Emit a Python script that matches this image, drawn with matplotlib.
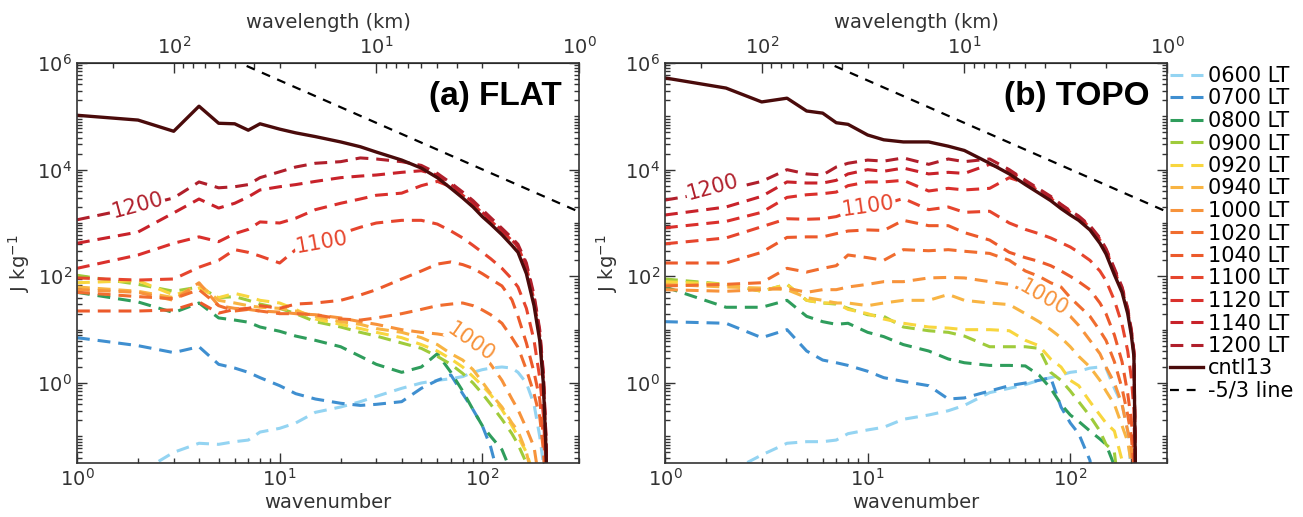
import numpy as np
import matplotlib.pyplot as plt
from matplotlib.ticker import LogLocator, NullFormatter, LogFormatterMathtext, FixedLocator

# wavenumber grid shared by every spectrum
wavenumber = [1, 2, 3, 4, 5, 6, 7, 8, 10, 12, 15, 20, 25, 30, 40, 50, 60, 70, 80,
              90, 100, 110, 125, 140, 150, 165, 180, 192, 200, 206, 212]

times = ['0600', '0700', '0800', '0900', '0920', '0940', '1000',
         '1020', '1040', '1100', '1120', '1140', '1200']

# log10 of kinetic energy spectra (J kg-1), FLAT run
flat_0600 = [-3.0, -1.7, -1.3, -1.13, -1.15, -1.1, -1.07, -0.92, -0.85, -0.75, -0.55, -0.45, -0.35, -0.25, -0.1, 0.0,
             0.05, 0.08, 0.12, 0.2, 0.25, 0.28, 0.3, 0.28, 0.2, 0.0, -0.4, -1.0, -1.5, -2.0, -3.0]
flat_0700 = [0.85, 0.7, 0.57, 0.68, 0.35, 0.28, 0.2, 0.1, -0.05, -0.2, -0.3, -0.38, -0.42, -0.4, -0.35, -0.1,
             0.05, 0.15, -0.2, -0.5, -0.8, -1.2, -2.0, -3.0, -3.0, -3.0, -3.0, -3.0, -3.0, -3.0, -3.0]
flat_0800 = [1.7, 1.52, 1.32, 1.5, 1.22, 1.18, 1.14, 1.05, 0.97, 0.88, 0.8, 0.68, 0.5, 0.35, 0.2, 0.3,
             0.55, 0.2, -0.15, -0.5, -0.8, -1.0, -1.25, -1.7, -3.0, -3.0, -3.0, -3.0, -3.0, -3.0, -3.0]
flat_0900 = [2.02, 1.85, 1.72, 1.8, 1.6, 1.62, 1.55, 1.48, 1.4, 1.3, 1.15, 1.05, 0.95, 0.88, 0.75, 0.65,
             0.5, 0.35, 0.18, 0.0, -0.2, -0.4, -0.68, -0.95, -1.15, -1.5, -3.0, -3.0, -3.0, -3.0, -3.0]
flat_0920 = [1.88, 1.92, 1.65, 1.78, 1.6, 1.68, 1.62, 1.55, 1.5, 1.38, 1.2, 1.1, 1.02, 0.95, 0.85, 0.72,
             0.6, 0.45, 0.3, 0.12, -0.05, -0.22, -0.5, -0.8, -1.0, -1.3, -1.75, -3.0, -3.0, -3.0, -3.0]
flat_0940 = [1.8, 1.72, 1.6, 1.85, 1.55, 1.5, 1.45, 1.42, 1.4, 1.35, 1.25, 1.15, 1.1, 1.02, 0.95, 0.85,
             0.72, 0.55, 0.43, 0.25, 0.02, -0.2, -0.45, -0.75, -0.9, -1.3, -1.9, -3.0, -3.0, -3.0, -3.0]
flat_1000 = [1.75, 1.7, 1.55, 1.88, 1.45, 1.4, 1.38, 1.35, 1.33, 1.3, 1.28, 1.22, 1.15, 1.1, 1.0, 0.95,
             0.92, 0.88, 0.82, 0.72, 0.55, 0.35, 0.05, -0.3, -0.5, -0.85, -1.2, -1.9, -3.0, -3.0, -3.0]
flat_1020 = [1.7, 1.62, 1.58, 1.75, 1.45, 1.35, 1.38, 1.35, 1.3, 1.3, 1.28, 1.2, 1.18, 1.22, 1.3, 1.38,
             1.45, 1.48, 1.5, 1.45, 1.37, 1.28, 1.12, 0.85, 0.67, 0.25, -0.2, -0.63, -1.25, -2.0, -3.0]
flat_1040 = [1.35, 1.35, 1.37, 1.52, 1.31, 1.38, 1.4, 1.45, 1.4, 1.48, 1.5, 1.55, 1.65, 1.75, 1.95, 2.1,
             2.23, 2.27, 2.22, 2.15, 2.05, 1.95, 1.82, 1.56, 1.25, 0.75, 0.2, -0.3, -1.0, -1.6, -3.0]
flat_1100 = [1.97, 1.93, 1.95, 2.17, 2.3, 2.5, 2.45, 2.38, 2.25, 2.5, 2.62, 2.8, 2.92, 3.0, 3.05, 3.05,
             2.98, 2.85, 2.72, 2.58, 2.45, 2.33, 2.15, 1.95, 1.8, 1.4, 0.8, 0.1, -0.6, -1.5, -3.0]
flat_1120 = [2.15, 2.4, 2.62, 2.74, 2.65, 2.8, 2.88, 3.02, 3.0, 3.09, 3.25, 3.37, 3.45, 3.52, 3.56, 3.7,
             3.78, 3.68, 3.52, 3.36, 3.18, 3.04, 2.85, 2.67, 2.55, 2.18, 1.55, 0.9, 0.1, -1.1, -3.0]
flat_1140 = [2.62, 2.83, 3.19, 3.45, 3.28, 3.37, 3.49, 3.62, 3.68, 3.72, 3.78, 3.85, 3.88, 3.9, 3.95, 3.98,
             3.9, 3.72, 3.55, 3.38, 3.2, 3.06, 2.86, 2.68, 2.56, 2.2, 1.6, 0.95, 0.15, -1.0, -3.0]
flat_1200 = [3.06, 3.3, 3.47, 3.77, 3.66, 3.68, 3.72, 3.85, 3.96, 4.05, 4.12, 4.15, 4.22, 4.2, 4.15, 4.08,
             3.93, 3.75, 3.58, 3.42, 3.25, 3.1, 2.9, 2.72, 2.6, 2.25, 1.65, 1.0, 0.2, -1.0, -3.0]
flat_cntl13 = [5.02, 4.93, 4.72, 5.19, 4.87, 4.86, 4.74, 4.86, 4.76, 4.69, 4.62, 4.52, 4.43, 4.33, 4.18, 4.03,
               3.85, 3.65, 3.47, 3.3, 3.12, 2.98, 2.78, 2.58, 2.45, 2.05, 1.45, 0.8, 0.0, -1.2, -3.0]

# log10 of kinetic energy spectra (J kg-1), TOPO run
topo_0600 = [-3.0, -1.7, -1.35, -1.13, -1.1, -1.1, -1.07, -0.95, -0.88, -0.83, -0.68, -0.6, -0.52, -0.42, -0.18, -0.1,
             -0.03, 0.05, 0.1, 0.15, 0.2, 0.22, 0.28, 0.3, 0.28, -0.1, -0.4, -0.9, -1.7, -2.5, -3.0]
topo_0700 = [1.15, 1.12, 0.85, 1.0, 0.6, 0.43, 0.38, 0.33, 0.22, 0.1, 0.03, -0.05, -0.3, -0.28, -0.15, -0.05,
             0.0, 0.05, 0.1, -0.45, -0.75, -0.95, -1.45, -3.0, -3.0, -3.0, -3.0, -3.0, -3.0, -3.0, -3.0]
topo_0800 = [1.8, 1.42, 1.42, 1.55, 1.25, 1.15, 1.1, 1.12, 0.95, 0.87, 0.72, 0.6, 0.45, 0.38, 0.33, 0.33,
             0.32, 0.15, -0.1, -0.4, -0.6, -0.72, -0.9, -1.05, -1.15, -1.55, -3.0, -3.0, -3.0, -3.0, -3.0]
topo_0900 = [1.95, 1.85, 1.72, 1.85, 1.55, 1.5, 1.48, 1.4, 1.28, 1.25, 1.05, 0.98, 0.95, 0.88, 0.68, 0.68,
             0.68, 0.65, 0.2, 0.05, -0.15, -0.35, -0.62, -0.9, -1.15, -1.3, -2.5, -3.0, -3.0, -3.0, -3.0]
topo_0920 = [1.9, 1.85, 1.72, 1.85, 1.55, 1.5, 1.5, 1.38, 1.3, 1.2, 1.12, 1.05, 1.03, 1.0, 1.0, 0.98,
             0.8, 0.7, 0.45, 0.3, 0.05, -0.05, -0.35, -0.6, -0.75, -0.9, -1.45, -3.0, -3.0, -3.0, -3.0]
topo_0940 = [1.85, 1.8, 1.78, 1.75, 1.6, 1.55, 1.5, 1.5, 1.45, 1.5, 1.55, 1.55, 1.66, 1.55, 1.5, 1.47,
             1.3, 1.15, 1.0, 0.85, 0.68, 0.5, 0.3, 0.05, -0.15, -0.4, -0.8, -1.1, -1.5, -3.0, -3.0]
topo_1000 = [1.75, 1.72, 1.75, 1.78, 1.7, 1.75, 1.75, 1.8, 1.85, 1.9, 1.9, 1.97, 1.98, 1.97, 1.9, 1.85,
             1.72, 1.55, 1.45, 1.35, 1.25, 1.08, 0.8, 0.55, 0.3, 0.0, -0.4, -0.9, -1.2, -2.0, -3.0]
topo_1020 = [1.82, 1.85, 1.88, 2.15, 2.08, 2.15, 2.2, 2.4, 2.35, 2.3, 2.5, 2.48, 2.5, 2.47, 2.43, 2.3,
             2.1, 2.0, 1.88, 1.8, 1.6, 1.45, 1.25, 0.98, 0.8, 0.4, -0.1, -0.6, -1.0, -1.6, -3.0]
topo_1040 = [2.25, 2.25, 2.45, 2.73, 2.74, 2.74, 2.8, 2.85, 2.87, 2.86, 3.05, 2.95, 2.95, 2.82, 2.68, 2.45,
             2.35, 2.28, 2.2, 2.1, 2.0, 1.9, 1.75, 1.5, 1.3, 0.9, 0.4, -0.2, -0.7, -1.3, -3.0]
topo_1100 = [2.61, 2.72, 2.93, 3.08, 3.07, 3.08, 3.12, 3.2, 3.3, 3.35, 3.46, 3.25, 3.3, 3.2, 3.22, 3.0,
             2.88, 2.8, 2.72, 2.63, 2.55, 2.45, 2.3, 2.1, 1.92, 1.55, 1.1, 0.6, 0.1, -0.5, -3.0]
topo_1120 = [2.91, 3.03, 3.2, 3.48, 3.53, 3.55, 3.58, 3.7, 3.77, 3.77, 3.8, 3.6, 3.65, 3.62, 3.65, 3.85,
             3.75, 3.6, 3.46, 3.32, 3.2, 3.1, 2.92, 2.68, 2.48, 2.1, 1.75, 1.35, 0.95, 0.55, -3.0]
topo_1140 = [3.15, 3.3, 3.5, 3.77, 3.75, 3.75, 3.8, 3.92, 4.0, 3.97, 4.03, 3.92, 3.95, 3.93, 4.1, 3.98,
             3.78, 3.62, 3.48, 3.34, 3.22, 3.12, 2.93, 2.7, 2.5, 2.12, 1.78, 1.38, 0.98, 0.58, -3.0]
topo_1200 = [3.43, 3.62, 3.78, 4.0, 3.92, 3.9, 4.05, 4.12, 4.18, 4.16, 4.22, 4.1, 4.2, 4.15, 4.2, 4.0,
             3.8, 3.64, 3.5, 3.35, 3.23, 3.13, 2.95, 2.72, 2.52, 2.15, 1.8, 1.4, 1.0, 0.6, -3.0]
topo_cntl13 = [5.72, 5.53, 5.27, 5.34, 5.1, 5.06, 4.88, 4.85, 4.65, 4.56, 4.52, 4.52, 4.44, 4.36, 4.12, 3.92,
               3.72, 3.56, 3.42, 3.27, 3.15, 3.05, 2.87, 2.62, 2.42, 2.03, 1.7, 1.3, 0.9, 0.5, -3.0]

# -5/3 reference line (log10 J kg-1 at the two ends)
slope_k = [1, 300]
slope_log = [7.34, 3.21]

DOMAIN_KM = 300.0

flat_curves = [flat_0600, flat_0700, flat_0800, flat_0900, flat_0920, flat_0940, flat_1000,
               flat_1020, flat_1040, flat_1100, flat_1120, flat_1140, flat_1200]
topo_curves = [topo_0600, topo_0700, topo_0800, topo_0900, topo_0920, topo_0940, topo_1000,
               topo_1020, topo_1040, topo_1100, topo_1120, topo_1140, topo_1200]

colors = ['#94d4f2', '#3f8fd0', '#2f9d5c', '#9fcb3b', '#f8d63e', '#f8b443', '#f7933b',
          '#f06d2f', '#ec5a2b', '#e6452d', '#da302c', '#c8222a', '#b01f2b']
cntl_color = '#4a0b0b'
txt_color = '#333333'

# tick positions on the wavelength (km) axis
wl_major = [1, 10, 100]
wl_minor = [2, 3, 4, 5, 6, 7, 8, 9, 20, 30, 40, 50, 60, 70, 80, 90, 200, 300]


def to_wavelength(k):
    return DOMAIN_KM / np.maximum(k, 1e-9)


def draw_panel(ax, curves, cntl, title, labels):
    for t, vals, c in zip(times, curves, colors):
        ax.plot(wavenumber, 10 ** np.array(vals), color=c, lw=2.2,
                ls=(0, (4.2, 2.6)), label=f'{t} LT')
    ax.plot(wavenumber, 10 ** np.array(cntl), color=cntl_color, lw=2.4, label='cntl13')
    ax.plot(slope_k, 10 ** np.array(slope_log), color='k', lw=1.6,
            ls=(0, (4, 3.5)), label='-5/3 line')

    ax.set_xscale('log')
    ax.set_yscale('log')
    ax.set_xlim(1, 300)
    ax.set_ylim(10 ** -1.5, 1e6)

    ax.yaxis.set_major_locator(FixedLocator([1e0, 1e2, 1e4, 1e6]))
    ax.yaxis.set_major_formatter(LogFormatterMathtext())
    ax.yaxis.set_minor_locator(LogLocator(base=10, subs=np.arange(1, 10), numticks=20))
    ax.yaxis.set_minor_formatter(NullFormatter())
    ax.xaxis.set_major_locator(FixedLocator([1, 10, 100]))
    ax.xaxis.set_major_formatter(LogFormatterMathtext())
    ax.xaxis.set_minor_locator(LogLocator(base=10, subs=np.arange(2, 10), numticks=20))
    ax.xaxis.set_minor_formatter(NullFormatter())
    ax.tick_params(which='both', direction='in', top=False, right=True,
                   labelsize=14, colors=txt_color, width=1)
    ax.tick_params(which='major', length=7)
    ax.tick_params(which='minor', length=3.5)
    for s in ax.spines.values():
        s.set_color(txt_color)
        s.set_linewidth(1.2)

    sec = ax.secondary_xaxis('top', functions=(to_wavelength, to_wavelength))
    sec.xaxis.set_major_locator(FixedLocator(wl_major))
    sec.xaxis.set_major_formatter(LogFormatterMathtext())
    sec.xaxis.set_minor_locator(FixedLocator(wl_minor))
    sec.xaxis.set_minor_formatter(NullFormatter())
    sec.tick_params(which='both', direction='in', labelsize=14, colors=txt_color, width=1)
    sec.tick_params(which='major', length=7)
    sec.tick_params(which='minor', length=3.5)
    sec.set_xlabel('wavelength (km)', fontsize=14, color=txt_color, labelpad=6)

    ax.set_xlabel('wavenumber', fontsize=14, color=txt_color, labelpad=2)
    ax.set_ylabel('J kg$^{-1}$', fontsize=14, color=txt_color, labelpad=4)

    ax.text(0.965, 0.955, title, transform=ax.transAxes, ha='right', va='top',
            fontsize=24, fontweight='bold', family='Liberation Sans')

    for txt, k, lv, rot, col in labels:
        ax.text(k, 10 ** lv, txt, color=col, fontsize=15, rotation=rot,
                ha='center', va='center', rotation_mode='anchor',
                bbox=dict(facecolor='white', edgecolor='none', pad=0.6))


fig = plt.figure(figsize=(13.03, 5.17), dpi=100)
ax1 = fig.add_axes([77 / 1303, 54 / 517, 502 / 1303, 400 / 517])
ax2 = fig.add_axes([665 / 1303, 54 / 517, 502 / 1303, 400 / 517])

draw_panel(ax1, flat_curves, flat_cntl13, '(a) FLAT',
           [('1200', 2.0, 3.34, 15, colors[12]),
            ('1100', 16.1, 2.64, 10, colors[9]),
            ('1000', 88, 0.77, -35, colors[6])])
draw_panel(ax2, topo_curves, topo_cntl13, '(b) TOPO',
           [('1200', 1.72, 3.66, 15, colors[12]),
            ('1100', 10.1, 3.32, 8, colors[9]),
            ('1000', 74, 1.59, -30, colors[6])])

handles, lbls = ax2.get_legend_handles_labels()
fig.legend(handles, lbls, loc='upper left', bbox_to_anchor=(1170 / 1303, 1 - 66 / 517),
           frameon=False, fontsize=15, handlelength=1.6, handletextpad=0.2,
           labelspacing=0.12, borderpad=0, borderaxespad=0)

fig.savefig('out.png', dpi=100)
